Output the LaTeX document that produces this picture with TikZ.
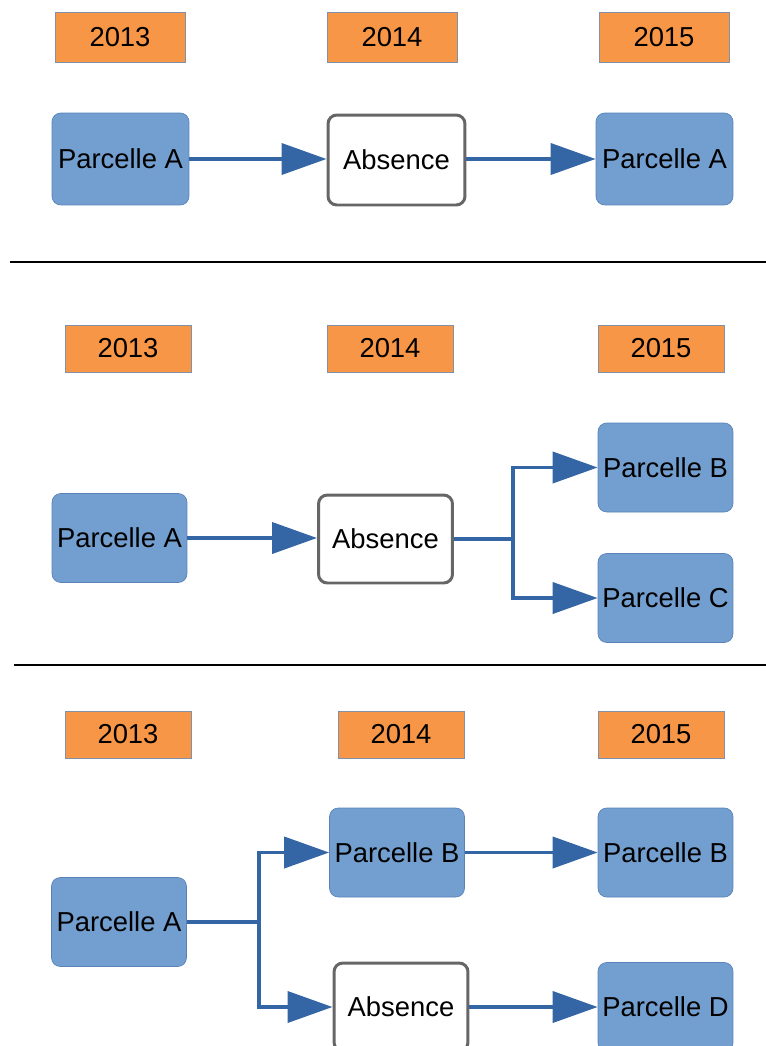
\documentclass[tikz,border=0pt]{standalone}
\usepackage{fontspec}
\setmainfont{Liberation Sans}
\usetikzlibrary{positioning, arrows.meta}
\definecolor{yearfill}{RGB}{247,150,70}
\definecolor{yeardraw}{RGB}{130,145,170}
\definecolor{plotfill}{RGB}{114,159,207}
\definecolor{plotdraw}{RGB}{90,130,185}
\definecolor{arrblue}{RGB}{52,101,164}
\definecolor{absgray}{RGB}{102,102,102}

\begin{document}
\begin{tikzpicture}[x=0.02cm, y=-0.02cm,
  year/.style={rectangle, draw=yeardraw, fill=yearfill, minimum width=2.52cm,
               minimum height=0.94cm, inner sep=0pt, font=\fontsize{15.6}{18}\selectfont},
  plot/.style={rectangle, rounded corners=5pt, draw=plotdraw, fill=plotfill,
               minimum width=2.7cm, minimum height=1.78cm, inner sep=0pt,
               font=\fontsize{15.6}{18}\selectfont},
  absent/.style={rectangle, rounded corners=5pt, draw=absgray, line width=1.7pt,
               fill=white, minimum width=2.68cm, minimum height=1.76cm, inner sep=0pt,
               font=\fontsize{15.6}{18}\selectfont},
  arr/.style={-{Triangle[length=0.9cm, width=0.62cm]}, line width=2.2pt, color=arrblue},
  sep/.style={line width=0.8pt, color=black}
]
  \useasboundingbox (0,0) rectangle (766,1046);
  \clip (0,0) rectangle (766,1046);

  % first case
  \node[year, minimum width=2.6cm, minimum height=1cm] (ya1) at (120,37)  {2013};
  \node[year, minimum width=2.6cm, minimum height=1cm] (yb1) at (392,37)  {2014};
  \node[year, minimum width=2.6cm, minimum height=1cm] (yc1) at (664,37)  {2015};
  \node[plot, minimum width=2.74cm, minimum height=1.84cm]   (pa1)  at (120.5,159) {Parcelle A};
  \node[absent, minimum width=2.74cm, minimum height=1.8cm]  (abs1) at (396.5,160) {Absence};
  \node[plot, minimum width=2.74cm, minimum height=1.84cm]   (pa1r) at (664.5,159) {Parcelle A};
  \draw[arr] (pa1.east)  -- (abs1.west |- pa1.east);
  \draw[arr] (abs1.east |- pa1r.west) -- (pa1r.west);
  \draw[sep] (10,262) -- (766,262);

  % second case
  \node[year] (ya2) at (128,348.5) {2013};
  \node[year] (yb2) at (390,348.5) {2014};
  \node[year] (yc2) at (661,348.5) {2015};
  \node[plot]   (pa2)  at (119.5,538) {Parcelle A};
  \node[absent] (abs2) at (385.5,539) {Absence};
  \node[plot]   (pb2)  at (665.5,467.5) {Parcelle B};
  \node[plot]   (pc2)  at (665.5,598)   {Parcelle C};
  \coordinate (br2) at (513,539);
  \draw[arr] (pa2.east) -- (abs2.west |- pa2.east);
  \draw[arr] (abs2.east) -- (br2) |- (pb2.west);
  \draw[arr] (br2) |- (pc2.west);
  \draw[sep] (14,665) -- (766,665);

  % third case
  \node[year] (ya3) at (128,734.5) {2013};
  \node[year] (yb3) at (401,734.5) {2014};
  \node[year] (yc3) at (661,734.5) {2015};
  \node[plot]   (pa3)  at (119,922)    {Parcelle A};
  \node[plot]   (pb3)  at (397,852.5)  {Parcelle B};
  \node[absent] (abs3) at (401,1007)   {Absence};
  \node[plot]   (pb3r) at (665.5,852.5) {Parcelle B};
  \node[plot]   (pd3)  at (665.5,1007) {Parcelle D};
  \coordinate (br3) at (259,922);
  \draw[arr] (pa3.east) -- (br3) |- (pb3.west);
  \draw[arr] (br3) |- (abs3.west);
  \draw[arr] (pb3.east) -- (pb3r.west);
  \draw[arr] (abs3.east) -- (pd3.west);
\end{tikzpicture}
\end{document}
